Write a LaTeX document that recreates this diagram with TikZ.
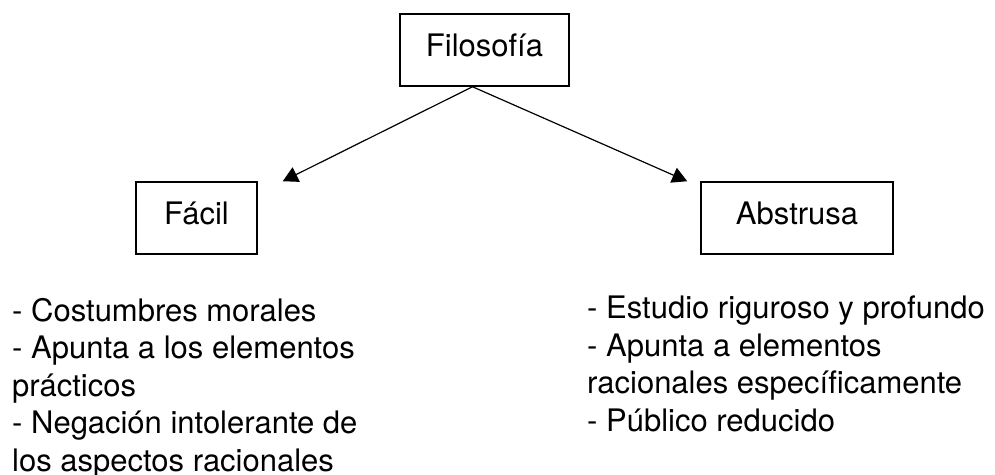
\documentclass[tikz,border=0pt]{standalone}
\usepackage{fontspec}
\setmainfont{TeX Gyre Heros}
\usepackage{tikz}
\usetikzlibrary{arrows.meta,positioning}
\tikzstyle{conceptbox} = [draw=black, fill=white, line width=1.5pt,
    rectangle, minimum height=72pt, text height=22pt, text depth=10pt,
    font=\fontsize{31pt}{37.5pt}\selectfont]
\tikzstyle{notelist} = [anchor=north west, inner sep=0pt, align=left,
    font=\fontsize{31pt}{37.5pt}\selectfont]
\tikzstyle{fancyarrow} = [line width=1.2pt, -{Triangle[length=15pt,width=16pt]}]

\begin{document}
\begin{tikzpicture}
\useasboundingbox (0,0) rectangle (995pt,-474pt);
\node [conceptbox, minimum width=169pt] (filo) at (484.5pt,-50pt) {Filosofía};
\node [conceptbox, minimum width=121pt] (facil) at (196.5pt,-218pt) {Fácil};
\node [conceptbox, minimum width=192pt] (abstrusa) at (797pt,-218pt) {Abstrusa};
\coordinate (apex) at ([xshift=-12pt]filo.south);
\coordinate (tipfacil) at ([xshift=25pt]facil.north east);
\coordinate (tipabstrusa) at ([xshift=-13pt]abstrusa.north west);
\draw [fancyarrow] (apex) -- (tipfacil);
\draw [fancyarrow] (apex) -- (tipabstrusa);
\node [notelist] (facillist) at (12pt,-298pt) {- Costumbres morales\\
    - Apunta a los elementos\\
    prácticos\\
    - Negación intolerante de\\
    los aspectos racionales};
\node [notelist] (abstrusalist) at (587pt,-296pt) {- Estudio riguroso y profundo\\
    - Apunta a elementos\\
    racionales específicamente\\
    - Público reducido};
\end{tikzpicture}
\end{document}
